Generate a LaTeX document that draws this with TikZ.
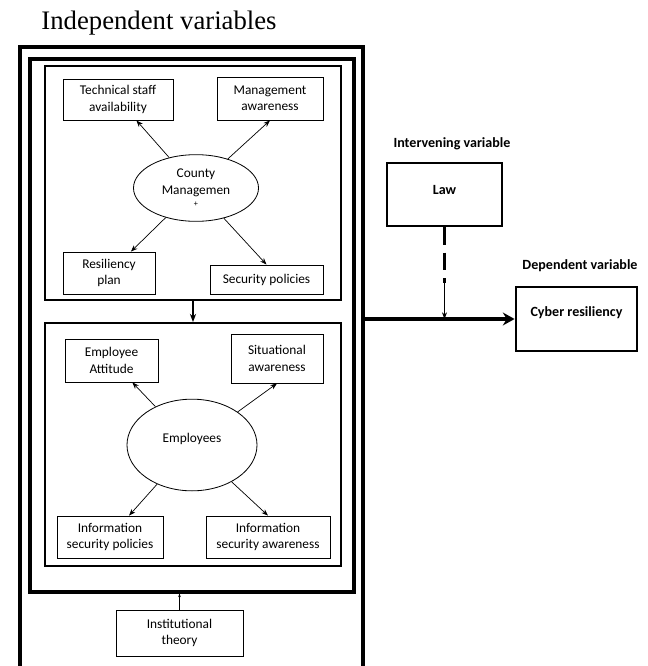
\documentclass[tikz,border=0pt]{standalone}
\usepackage{fontspec}
\setmainfont{Liberation Serif}
\setsansfont{Carlito}
\usetikzlibrary{shapes.geometric, arrows.meta, positioning, fit, calc}

\begin{document}
\begin{tikzpicture}[x=0.03cm, y=-0.03cm, >=Stealth,
    panel/.style={draw, inner sep=0pt},
    varbox/.style={draw, line width=0.7pt, inner sep=0pt, align=center, font=\sffamily\fontsize{11.4}{14}\selectfont},
    keybox/.style={draw, inner sep=0pt, align=center, font=\sffamily\bfseries\fontsize{12}{14}\selectfont},
    hub/.style={draw, ellipse, line width=0.7pt, inner sep=0pt, align=center, font=\sffamily\fontsize{11.4}{14}\selectfont},
    headlabel/.style={font=\sffamily\bfseries\fontsize{12}{14}\selectfont},
    spoke/.style={->, line width=0.6pt}]
    \clip (0,0) rectangle (648,666);

    % Heading
    \node (indeptitle) at (159,23) {\fontsize{22.8}{26}\selectfont Independent variables};

    % Frames
    \node (outerframe) [panel, line width=3.4pt, fit={(20,47) (363,720)}] {};
    \node (indframe) [panel, line width=2.6pt, fit={(30,59) (354,592)}] {};
    \node (mgmtframe) [panel, line width=1.6pt, fit={(45,66) (341,300)}] {};
    \node (empframe) [panel, line width=1.6pt, fit={(45,323) (341,566)}] {};

    % County management
    \node (county) [hub, minimum width=3.75cm, minimum height=2cm] at (196,188) {County\\Managemen\\[-3pt]{\scriptsize +}};
    \node (techstaff) [varbox, minimum width=3.3cm, minimum height=1.23cm] at (118,99.5) {Technical staff\\availability};
    \node (mgmtaware) [varbox, minimum width=3.18cm, minimum height=1.29cm] at (270,98.5) {Management\\awareness};
    \node (resplan) [varbox, minimum width=2.76cm, minimum height=1.26cm] at (109,273) {Resiliency\\plan};
    \node (secpolicies) [varbox, minimum width=3.39cm, minimum height=0.87cm] at (266.5,279.5) {Security policies};

    \draw[spoke] (county) -- (techstaff);
    \draw[spoke] (county) -- (mgmtaware.south);
    \draw[spoke] (county) -- (resplan);
    \draw[spoke] (county) -- (secpolicies.north);

    % Employees
    \node (employees) [hub, minimum width=3.9cm, minimum height=2.75cm] at (192,445) {\raisebox{5pt}[\height][\depth]{Employees}};
    \node (empattitude) [varbox, minimum width=2.79cm, minimum height=1.29cm] at (111.5,360.5) {Employee\\Attitude};
    \node (situational) [varbox, minimum width=2.76cm, minimum height=1.47cm] at (277,358.5) {Situational\\awareness};
    \node (infopolicies) [varbox, minimum width=3.18cm, minimum height=1.26cm] at (110,537) {Information\\security policies};
    \node (infoaware) [varbox, minimum width=3.72cm, minimum height=1.26cm] at (268,537) {Information\\security awareness};

    \draw[spoke] (employees) -- (empattitude);
    \draw[spoke] (employees) -- (situational.south);
    \draw[spoke] (employees) -- (infopolicies);
    \draw[spoke] (employees) -- (infoaware.north);

    \draw[-{Stealth[length=7pt]}, line width=1.6pt] (mgmtframe.south) -- (empframe.north);

    % Theory
    \node (theory) [varbox, minimum width=3.81cm, minimum height=1.38cm] at (179.5,633) {Institutional\\theory};
    \draw[-{Stealth[length=3pt]}, line width=0.8pt] (theory.north) -- (theory.north |- indframe.south);

    % Intervening and dependent variables
    \node (intervlabel) [headlabel] at (452,144) {Intervening variable};
    \node (law) [keybox, line width=1.6pt, minimum width=3.45cm, minimum height=1.89cm] at (444.5,194.5) {\raisebox{4pt}[\height][\depth]{Law}};
    \node (deplabel) [headlabel] at (580,266) {Dependent variable};
    \node (cyber) [keybox, line width=2.4pt, minimum width=3.63cm, minimum height=1.92cm] at (576.5,319) {\raisebox{5pt}[\height][\depth]{Cyber resiliency}};

    \draw[-{Stealth[length=10pt, width=11pt]}, line width=3.2pt] (outerframe.east |- cyber.west) -- (cyber.west);

    \coordinate (lawjoin) at (law.south |- cyber.west);
    \coordinate (lawdash) at ($(lawjoin)+(0,-36)$);
    \draw[line width=2.4pt, dash pattern=on 15pt off 7pt] (law.south) -- (lawdash);
    \draw[spoke] (lawdash) -- (lawjoin);
\end{tikzpicture}
\end{document}
